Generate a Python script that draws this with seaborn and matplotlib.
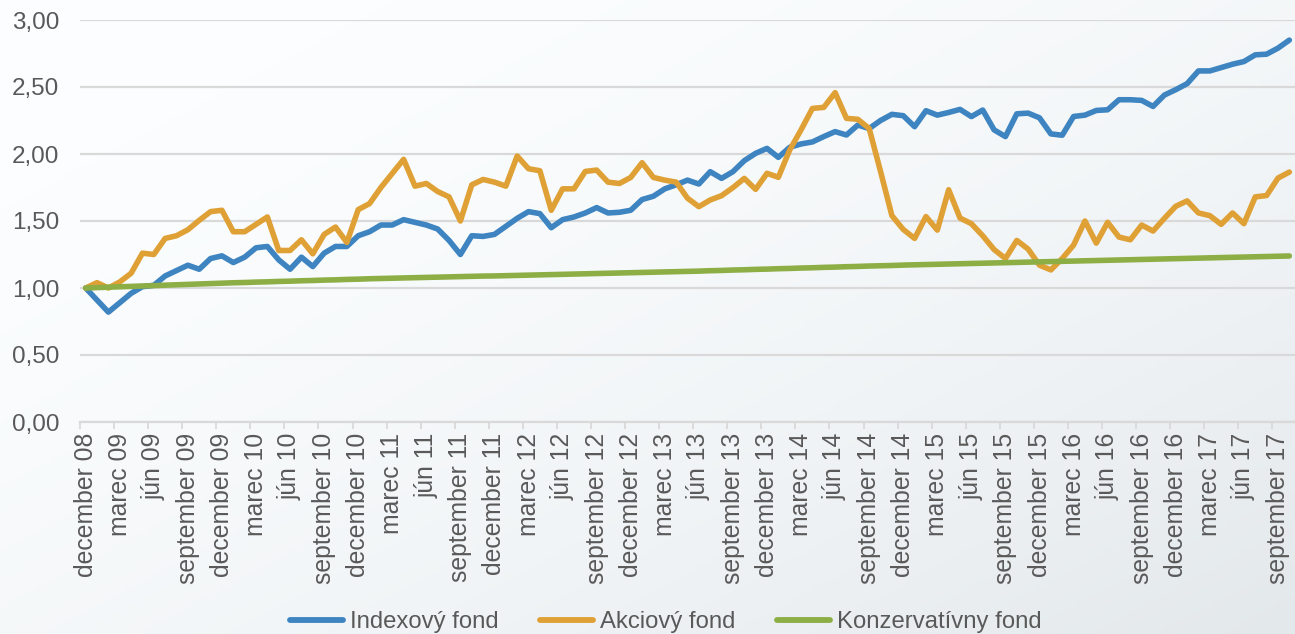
import numpy as np
import pandas as pd
import matplotlib
matplotlib.use("Agg")
import matplotlib.pyplot as plt
import seaborn as sns
from matplotlib.colors import LinearSegmentedColormap
from matplotlib.ticker import FuncFormatter, FixedLocator

# mesacne obdobia december 2008 - oktober 2017
mesiace = ["január", "február", "marec", "apríl", "máj", "jún", "júl",
           "august", "september", "október", "november", "december"]
datumy = [f"{mesiace[(11 + k) % 12]} {8 + (11 + k) // 12:02d}" for k in range(107)]

indexovy = [1.00, 0.91, 0.82, 0.89, 0.96, 1.01, 1.02, 1.09, 1.13, 1.17,
            1.14, 1.22, 1.24, 1.19, 1.23, 1.30, 1.31, 1.21, 1.14, 1.23,
            1.16, 1.26, 1.31, 1.31, 1.39, 1.42, 1.47, 1.47, 1.51, 1.49,
            1.47, 1.44, 1.355, 1.25, 1.39, 1.385, 1.40, 1.46, 1.52, 1.57,
            1.555, 1.45, 1.51, 1.53, 1.56, 1.60, 1.56, 1.565, 1.58, 1.66,
            1.685, 1.74, 1.77, 1.805, 1.776, 1.868, 1.818, 1.868, 1.95, 2.005,
            2.042, 1.975, 2.05, 2.075, 2.09, 2.13, 2.167, 2.142, 2.216, 2.19,
            2.25, 2.296, 2.286, 2.204, 2.323, 2.29, 2.31, 2.333, 2.279, 2.328,
            2.18, 2.13, 2.30, 2.305, 2.27, 2.15, 2.14, 2.28, 2.29, 2.325,
            2.33, 2.405, 2.405, 2.40, 2.355, 2.44, 2.48, 2.525, 2.62, 2.62,
            2.645, 2.67, 2.69, 2.74, 2.745, 2.79, 2.85]

akciovy = [1.00, 1.04, 1.00, 1.045, 1.11, 1.26, 1.25, 1.37, 1.39, 1.435,
           1.505, 1.57, 1.58, 1.42, 1.42, 1.475, 1.53, 1.28, 1.28, 1.36,
           1.255, 1.40, 1.455, 1.34, 1.585, 1.63, 1.75, 1.855, 1.96, 1.76,
           1.78, 1.72, 1.68, 1.50, 1.77, 1.81, 1.79, 1.76, 1.985, 1.89,
           1.875, 1.58, 1.74, 1.74, 1.87, 1.88, 1.79, 1.78, 1.825, 1.935,
           1.825, 1.805, 1.79, 1.67, 1.607, 1.657, 1.689, 1.749, 1.818, 1.736,
           1.856, 1.826, 2.03, 2.18, 2.34, 2.348, 2.458, 2.266, 2.259, 2.19,
           1.87, 1.54, 1.437, 1.37, 1.533, 1.432, 1.733, 1.522, 1.48, 1.39,
           1.287, 1.22, 1.355, 1.29, 1.17, 1.135, 1.22, 1.32, 1.50, 1.335,
           1.49, 1.38, 1.36, 1.47, 1.425, 1.52, 1.61, 1.65, 1.56, 1.54,
           1.475, 1.56, 1.48, 1.68, 1.69, 1.82, 1.865]

konzervativny = [1.000, 1.003, 1.006, 1.009, 1.012, 1.015, 1.018, 1.021, 1.024, 1.027,
                 1.030, 1.033, 1.036, 1.039, 1.041, 1.044, 1.046, 1.049, 1.051, 1.054,
                 1.056, 1.059, 1.061, 1.064, 1.066, 1.069, 1.071, 1.073, 1.075, 1.077,
                 1.079, 1.081, 1.083, 1.085, 1.087, 1.089, 1.090, 1.092, 1.094, 1.096,
                 1.098, 1.100, 1.102, 1.104, 1.106, 1.108, 1.110, 1.112, 1.114, 1.116,
                 1.118, 1.120, 1.122, 1.124, 1.126, 1.129, 1.131, 1.134, 1.136, 1.139,
                 1.141, 1.144, 1.146, 1.149, 1.151, 1.154, 1.156, 1.159, 1.161, 1.164,
                 1.166, 1.168, 1.171, 1.173, 1.175, 1.177, 1.179, 1.181, 1.183, 1.185,
                 1.187, 1.189, 1.191, 1.193, 1.195, 1.197, 1.199, 1.201, 1.203, 1.205,
                 1.207, 1.209, 1.211, 1.213, 1.215, 1.217, 1.219, 1.221, 1.223, 1.225,
                 1.227, 1.229, 1.231, 1.233, 1.235, 1.237, 1.239]

fondy = ["Indexový fond", "Akciový fond", "Konzervatívny fond"]
farby = ["#3D84C1", "#DFA035", "#8CAE44"]

df = pd.DataFrame({"obdobie": range(len(datumy)),
                   fondy[0]: indexovy, fondy[1]: akciovy, fondy[2]: konzervativny})
df = df.melt(id_vars="obdobie", var_name="fond", value_name="hodnota")

sns.set_theme(style="white")
plt.rcParams["font.family"] = ["Liberation Sans", "DejaVu Sans"]
plt.rcParams["lines.solid_joinstyle"] = "round"
plt.rcParams["lines.solid_capstyle"] = "round"

W, H = 1295, 634
fig = plt.figure(figsize=(W / 100, H / 100), dpi=100)

# gradient pozadia
bg = fig.add_axes([0, 0, 1, 1], zorder=-10)
gx, gy = np.meshgrid(np.linspace(0, 1, 300), np.linspace(0, 1, 150))
t = np.clip(0.6 * gx + 0.55 * gy - 0.15, 0, 1) ** 1.6
cmap = LinearSegmentedColormap.from_list("bg", ["#FBFDFE", "#E3E8EB"])
bg.imshow(t, cmap=cmap, vmin=0, vmax=1, aspect="auto", extent=[0, 1, 0, 1], origin="upper")
bg.axis("off")

ax = fig.add_axes([80 / W, 1 - 422 / H, 1215 / W, 402 / H])
ax.set_facecolor("none")

sns.lineplot(data=df, x="obdobie", y="hodnota", hue="fond", hue_order=fondy,
             palette=farby, linewidth=4.0, ax=ax)

ax.set_xlim(-0.5, len(datumy) - 0.5)
ax.set_ylim(0, 3)
ax.set_xlabel("")
ax.set_ylabel("")

ax.set_yticks(np.arange(0, 3.01, 0.5))
ax.yaxis.set_major_formatter(FuncFormatter(lambda v, p: f"{v:.2f}".replace(".", ",")))
ax.yaxis.grid(True, color="#D9D9D9", linewidth=1.6)
ax.tick_params(axis="y", length=0, pad=15, labelsize=17.5, labelcolor="#595959")

ax.set_xticks(range(0, len(datumy), 3))
ax.set_xticklabels(datumy[::3], rotation=90, va="top", ha="center")
ax.xaxis.set_minor_locator(FixedLocator(np.arange(-0.5, len(datumy), 3)))
ax.tick_params(axis="x", which="major", length=0, pad=8, labelsize=17.8, labelcolor="#595959")
ax.tick_params(axis="x", which="minor", length=5, width=1.3, color="#D9D9D9", bottom=True)

for s in ["top", "right", "left"]:
    ax.spines[s].set_visible(False)
ax.spines["bottom"].set_color("#D9D9D9")
ax.spines["bottom"].set_linewidth(1.6)

handles, labels = ax.get_legend_handles_labels()
ax.get_legend().remove()
for h in handles:
    h.set_linewidth(4.2)
fig.legend(handles, labels, loc="center", bbox_to_anchor=(666 / W, 1 - 622 / H),
           ncol=3, frameon=False, fontsize=17.2, handlelength=2.2,
           handletextpad=0.3, columnspacing=1.75, labelcolor="#595959")

fig.savefig("out.png", dpi=100)
